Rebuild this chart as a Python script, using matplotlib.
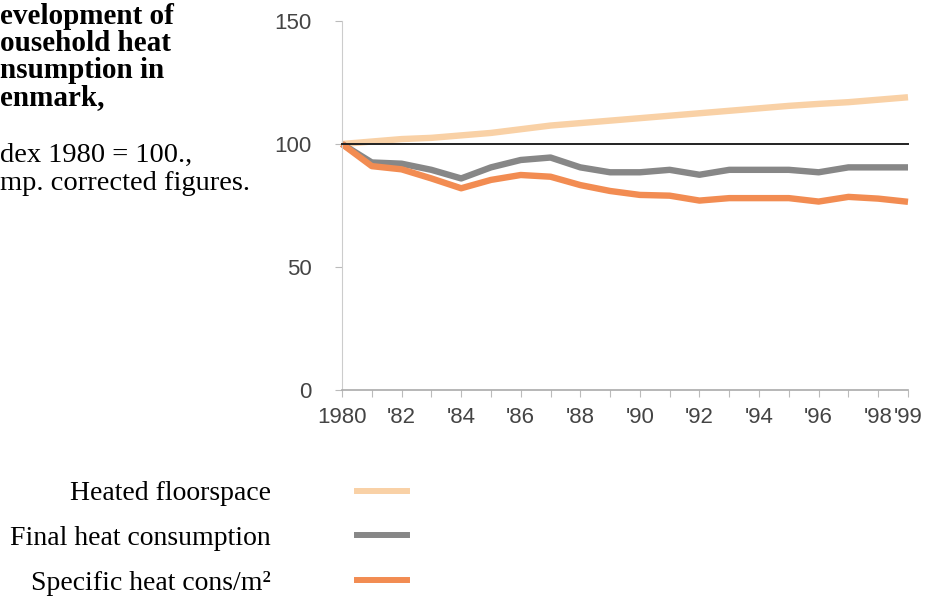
import matplotlib
matplotlib.use('Agg')
import matplotlib.pyplot as plt
from matplotlib.lines import Line2D

# index 1980 = 100, temp. corrected
years = list(range(1980, 2000))
floorspace = [100, 101, 102, 102.5, 103.5, 104.5, 106, 107.5, 108.5, 109.5,
              110.5, 111.5, 112.5, 113.5, 114.5, 115.5, 116.3, 117, 118, 119]
final_heat = [100, 92.5, 92, 89.5, 86, 90.5, 93.5, 94.5, 90.5, 88.5,
              88.5, 89.5, 87.5, 89.5, 89.5, 89.5, 88.5, 90.5, 90.5, 90.5]
specific = [100, 91, 89.7, 86, 82, 85.4, 87.4, 86.7, 83.3, 80.9,
            79.3, 79, 77, 78, 78, 78, 76.6, 78.5, 77.8, 76.5]
base = [100] * len(years)

series_names = ['Heated floorspace', 'Final heat consumption', 'Specific heat cons/m²']
series_colors = ['#f9d1a6', '#878787', '#f28c52']

xtick_labels = ['1980', '', "'82", '', "'84", '', "'86", '', "'88", '', "'90", '',
                "'92", '', "'94", '', "'96", '', "'98", "'99"]
yticks = [0, 50, 100, 150]

# the text block is cropped at the left page edge in the source
title_lines = ['evelopment of', 'ousehold heat', 'nsumption in', 'enmark,']
note_lines = ['dex 1980 = 100.,', 'mp. corrected figures.']

W, H = 927, 605
fig = plt.figure(figsize=(W / 100, H / 100), dpi=100)
ax = fig.add_axes([342 / W, 1 - 390 / H, (908 - 342) / W, (390 - 21) / H])

for vals, col in zip([floorspace, final_heat, specific], series_colors):
    ax.plot(years, vals, color=col, lw=4.6, solid_capstyle='butt', clip_on=False)
ax.plot(years, base, color='#222222', lw=1.4, clip_on=False, zorder=3)

ax.set_xlim(1980, 1999)
ax.set_ylim(0, 150)
ax.set_xticks(years)
ax.set_yticks(yticks)

tick_font = ['Liberation Sans', 'DejaVu Sans']
ax.set_xticklabels(xtick_labels, family=tick_font, fontsize=16, color='#444444')
ax.set_yticklabels([str(v) for v in yticks], family=tick_font, fontsize=16, color='#444444')
ax.tick_params(axis='both', length=5, width=0.8, color='#bbbbbb')
ax.tick_params(axis='x', pad=7)
ax.tick_params(axis='y', pad=17)
# nudge the last two labels apart like the original
ax.get_xticklabels()[-2].set_x(1979.9)

for s in ['top', 'right']:
    ax.spines[s].set_visible(False)
ax.spines['left'].set_color('#cccccc')
ax.spines['bottom'].set_color('#aaaaaa')
ax.spines['bottom'].set_linewidth(1.2)

serif = ['Liberation Serif', 'DejaVu Serif']
for i, txt in enumerate(title_lines):
    fig.text(0, 1 - (17 + 26.7 * i) / H, txt, ha='left', va='center', family=serif,
             fontsize=21, fontweight='bold')
for i, txt in enumerate(note_lines):
    fig.text(0, 1 - (155 + 28 * i) / H, txt, ha='left', va='center', family=serif,
             fontsize=20.5)

handles = [Line2D([], [], color=c, lw=4.3) for c in series_colors]
fig.legend(handles, series_names, loc='upper right', markerfirst=False,
           bbox_to_anchor=(407 / W, 1 - 481 / H), frameon=False,
           borderpad=0, borderaxespad=0, handlelength=1.8, handletextpad=3.1,
           labelspacing=0.69, prop={'family': serif, 'size': 20})

fig.savefig('out.png', dpi=100)
